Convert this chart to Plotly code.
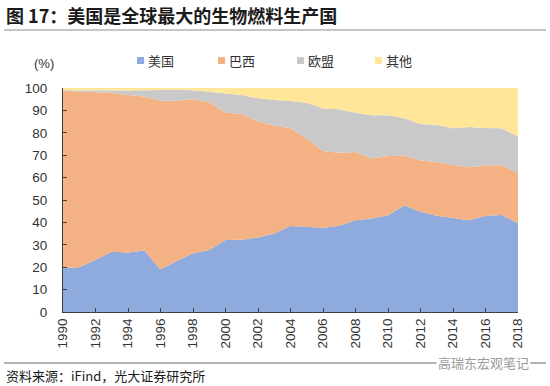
import plotly.graph_objects as go

years = list(range(1990, 2019))
usa = [19.5, 20.0, 23.2, 26.9, 26.6, 27.5, 19.0, 22.8, 26.2, 27.7, 32.1, 32.3, 33.3, 35.1, 38.4,
       37.9, 37.6, 38.5, 41.0, 41.7, 43.2, 47.5, 44.8, 43.0, 42.1, 41.0, 43.0, 43.3, 39.6]
brazil = [79.3, 78.4, 74.8, 70.9, 70.3, 68.7, 75.3, 71.5, 68.8, 65.9, 57.0, 56.1, 51.8, 48.2, 43.6,
          39.6, 34.3, 32.6, 30.4, 26.8, 26.4, 22.3, 22.8, 24.0, 23.5, 23.6, 22.5, 22.2, 22.3]
eu = [0.2, 0.5, 0.8, 1.0, 2.0, 2.8, 4.9, 4.9, 4.0, 4.7, 8.2, 8.5, 10.3, 11.3, 12.2,
      15.9, 19.0, 19.4, 17.6, 19.3, 18.2, 16.7, 16.3, 16.6, 16.4, 18.0, 16.6, 16.5, 16.4]
other = [1.0, 1.1, 1.2, 1.2, 1.1, 1.0, 0.8, 0.8, 1.0, 1.7, 2.7, 3.1, 4.6, 5.4, 5.8,
         6.6, 9.1, 9.5, 11.0, 12.2, 12.2, 13.5, 16.1, 16.4, 18.0, 17.4, 17.9, 18.0, 21.7]

names = ["美国", "巴西", "欧盟", "其他"]
colors = ["#8FAADC", "#F4B183", "#C9C9C9", "#FFE699"]
series = [usa, brazil, eu, other]

FONT = "Liberation Sans, Arial, Noto Sans CJK SC, sans-serif"
CJK = "Noto Sans CJK SC, Liberation Sans, sans-serif"

fig = go.Figure()
for name, vals, col in zip(names, series, colors):
    fig.add_trace(go.Scatter(
        x=years, y=vals, name=name, mode="lines", stackgroup="one",
        line=dict(width=0, color=col), fillcolor=col, showlegend=False,
        hoverinfo="x+y+name",
    ))

W, H = 550, 386
L, R, T, B = 63, 32, 88, 74
pw, ph = W - L - R, H - T - B

def px(x):
    return (x - L) / pw

def py(y):
    return (H - B - y) / ph

shapes = []
annotations = []

# title
annotations.append(dict(text="<b>图 17：美国是全球最大的生物燃料生产国</b>", x=px(4), y=py(15),
                        xref="paper", yref="paper", xanchor="left", yanchor="middle",
                        showarrow=False, font=dict(family=CJK, size=18, color="#1a1a1a")))
shapes.append(dict(type="line", xref="paper", yref="paper", x0=px(4), x1=px(546), y0=py(30), y1=py(30),
                   line=dict(color="#8c8c8c", width=1)))

# (%) label
annotations.append(dict(text="(%)", x=px(44), y=py(63), xref="paper", yref="paper",
                        xanchor="center", yanchor="middle", showarrow=False,
                        font=dict(family=FONT, size=13, color="#333333")))

# legend
leg_x = [137, 218, 297, 375]
for name, col, lx in zip(names, colors, leg_x):
    shapes.append(dict(type="rect", xref="paper", yref="paper", x0=px(lx), x1=px(lx + 7),
                       y0=py(64), y1=py(57), fillcolor=col, line=dict(width=0)))
    annotations.append(dict(text=name, x=px(lx + 9), y=py(60.5), xref="paper", yref="paper",
                            xanchor="left", yanchor="middle", showarrow=False,
                            font=dict(family=CJK, size=13, color="#333333")))

# footer
shapes.append(dict(type="line", xref="paper", yref="paper", x0=px(4), x1=px(546), y0=py(363), y1=py(363),
                   line=dict(color="#666666", width=1)))
annotations.append(dict(text="资料来源：iFind，光大证券研究所", x=px(4), y=py(375),
                        xref="paper", yref="paper", xanchor="left", yanchor="middle",
                        showarrow=False, font=dict(family=CJK, size=13, color="#1a1a1a")))
annotations.append(dict(text="高瑞东宏观笔记", x=px(483), y=py(362),
                        xref="paper", yref="paper", xanchor="center", yanchor="middle",
                        showarrow=False, bgcolor="white",
                        font=dict(family=CJK, size=13, color="#9a9a9a")))

fig.update_layout(
    width=W, height=H,
    margin=dict(l=L, r=R, t=T, b=B, pad=0),
    paper_bgcolor="white", plot_bgcolor="white",
    font=dict(family=FONT, size=13, color="#333333"),
    shapes=shapes, annotations=annotations,
    hovermode="x unified",
)
fig.update_xaxes(range=[1990, 2018], tickmode="linear", tick0=1990, dtick=2,
                 tickangle=-90, showgrid=False, zeroline=False,
                 showline=True, linecolor="#404040", linewidth=1,
                 ticks="inside", ticklen=4, tickcolor="#404040",
                 tickfont=dict(family=FONT, size=13.5, color="#333333"))
fig.update_yaxes(range=[0, 100], tickmode="linear", tick0=0, dtick=10,
                 showgrid=False, zeroline=False,
                 showline=True, linecolor="#404040", linewidth=1,
                 ticks="inside", ticklen=4, tickcolor="#404040", ticklabelstandoff=12,
                 tickfont=dict(family=FONT, size=13.5, color="#333333"))

fig.write_html("out.html", config={"displayModeBar": False},
               post_script="document.body.style.margin='0';document.body.style.padding='0';")
